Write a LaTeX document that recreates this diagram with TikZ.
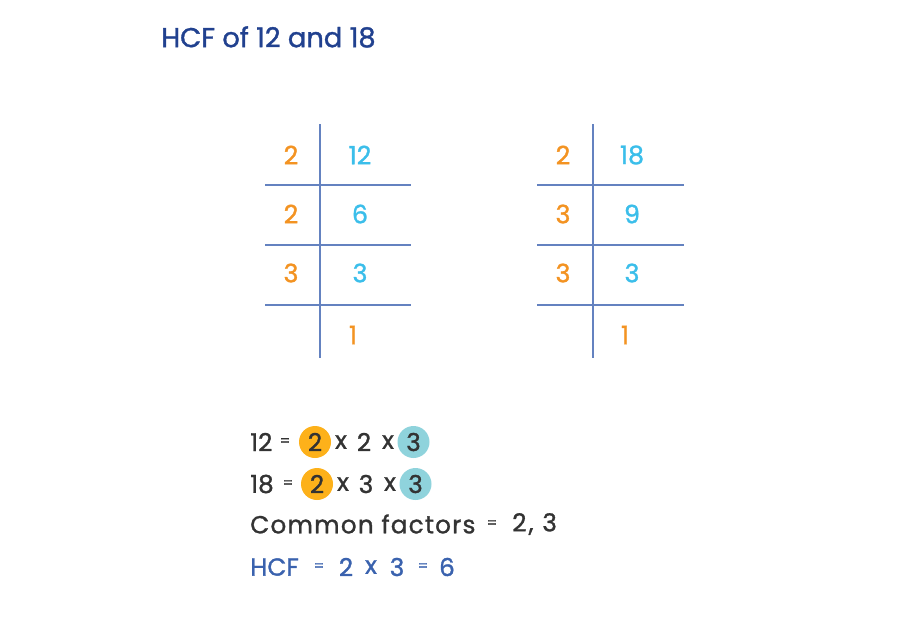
\documentclass[tikz,border=0pt]{standalone}
\usepackage{fontspec}
\setmainfont{Poppins}[AutoFakeBold=1.2]
\usetikzlibrary{positioning}
\definecolor{tt}{HTML}{21418F}
\definecolor{dv}{HTML}{F39322}
\definecolor{qt}{HTML}{3BBEEA}
\definecolor{ln}{HTML}{6482C0}
\definecolor{tx}{HTML}{333333}
\definecolor{hc}{HTML}{3A62AE}
\definecolor{co}{HTML}{FDB11A}
\definecolor{cy}{HTML}{8FD3DC}
\newcommand{\Numfont}{\fontsize{19}{22}\selectfont\bfseries}
\newcommand{\Rowfont}{\fontsize{18.5}{22}\selectfont\bfseries}

\begin{document}
\begin{tikzpicture}[x=0.75pt,y=-0.75pt,
  num/.style={font=\Numfont, inner sep=0pt},
  grid/.style={draw=ln, line width=1pt},
  tok/.style={font=\Rowfont, text=tx, inner sep=0pt},
  eqs/.style={font=\fontsize{11}{12}\selectfont\bfseries, text=tx, inner sep=0pt},
  dot/.style={circle, fill=#1, minimum size=24pt, inner sep=0pt, font=\Rowfont, text=tx}]
  \useasboundingbox (0,0) rectangle (924,626);

  % title
  \node[anchor=west, font=\fontsize{20.5}{24}\selectfont\bfseries, text=tt, inner sep=0pt] (title) at (161,37) {HCF of 12 and 18};

  % division ladders
  \draw[grid] (320,124) -- (320,358);
  \draw[grid] (593,124) -- (593,358);
  \foreach \y in {185,245,305} {
    \draw[grid] (265,\y) -- (411,\y);
    \draw[grid] (537,\y) -- (684,\y);
  }
  \foreach \d/\q/\y [count=\i] in {2/12/155,2/6/214,3/3/273} {
    \node[num, text=dv] (ad\i) at (291,\y) {\d};
    \node[num, text=qt] (aq\i) at (360,\y) {\q};
  }
  \node[num, text=dv] (aq4) at (353,335) {1};
  \foreach \d/\q/\y [count=\i] in {2/18/155,3/9/214,3/3/273} {
    \node[num, text=dv] (bd\i) at (563,\y) {\d};
    \node[num, text=qt] (bq\i) at (632,\y) {\q};
  }
  \node[num, text=dv] (bq4) at (625,335) {1};

  % prime factorisations
  \node[tok, anchor=west] (twelve) at (250,442) {12};
  \node[eqs] (eqa) at (285,442) {=};
  \node[dot=co] (ca) at (315,442) {2};
  \node[tok] (xa1) at (341,442) {x};
  \node[tok] (fa) at (364,442) {2};
  \node[tok] (xa2) at (388,442) {x};
  \node[dot=cy] (ta) at (413.5,442) {3};

  \node[tok, anchor=west] (eighteen) at (250,484) {18};
  \node[eqs] (eqb) at (288,484) {=};
  \node[dot=co] (cb) at (317,484) {2};
  \node[tok] (xb1) at (343,484) {x};
  \node[tok] (fb) at (366,484) {3};
  \node[tok] (xb2) at (390,484) {x};
  \node[dot=cy] (tb) at (415.5,484) {3};

  \node[tok, anchor=west, font=\Rowfont\addfontfeatures{LetterSpace=5}] (common) at (250,524) {Common factors};
  \node[eqs] (eqc) at (492,524) {=};
  \node[tok, anchor=west, font=\Rowfont\addfontfeatures{LetterSpace=9}] (cf) at (512,524) {2, 3};

  % result
  \node[tok, anchor=west, text=hc] (hcf) at (250,567) {HCF};
  \node[eqs, text=hc] (eqd) at (319,567) {=};
  \node[tok, text=hc] (h2) at (346,567) {2};
  \node[tok, text=hc] (hx) at (371,567) {x};
  \node[tok, text=hc] (h3) at (397,567) {3};
  \node[eqs, text=hc] (eqe) at (423,567) {=};
  \node[tok, text=hc] (h6) at (447,567) {6};
\end{tikzpicture}
\end{document}
